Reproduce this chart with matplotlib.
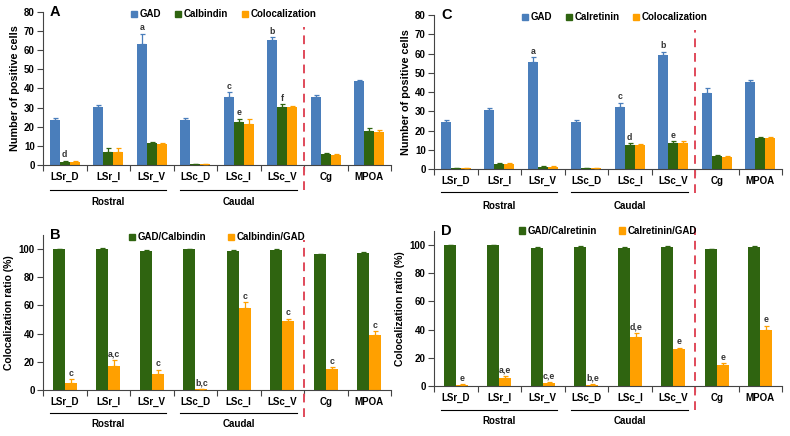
import matplotlib
matplotlib.use("Agg")
import matplotlib.pyplot as plt
from matplotlib.patches import Patch
import numpy as np

plt.rcParams['font.family'] = ['Liberation Sans', 'DejaVu Sans']
plt.rcParams['font.weight'] = 'bold'

categories = ['LSr_D', 'LSr_I', 'LSr_V', 'LSc_D', 'LSc_I', 'LSc_V', 'Cg', 'MPOA']

# Panel A (Calbindin counts)
gad_a = [23.3, 30.1, 63.5, 23.7, 35.6, 65.6, 35.3, 43.7]
gad_a_err = [1.2, 1.2, 5.0, 0.8, 2.4, 1.3, 1.2, 1.0]
calb_a = [1.5, 7.0, 11.3, 0.3, 22.3, 30.4, 5.6, 17.9]
calb_a_err = [0.8, 2.0, 0.8, 0.2, 2.0, 1.3, 0.7, 1.6]
coloc_a = [1.5, 7.0, 11.0, 0.3, 21.6, 30.1, 5.0, 17.2]
coloc_a_err = [0.6, 2.0, 0.7, 0.2, 2.3, 1.0, 0.7, 1.2]
notes_a = [(0, 2, 'a'), (1, 0, 'd'), (0, 4, 'c'), (1, 4, 'e'), (0, 5, 'b'), (1, 5, 'f')]

# Panel C (Calretinin counts)
gad_c = [24.2, 30.8, 55.8, 24.2, 32.4, 59.4, 39.5, 45.0]
gad_c_err = [1.2, 1.0, 2.2, 1.2, 2.0, 1.5, 2.5, 1.0]
calr_c = [0.4, 2.4, 1.2, 0.5, 12.3, 13.5, 6.9, 16.3]
calr_c_err = [0.2, 0.8, 0.4, 0.2, 1.0, 1.0, 0.5, 0.5]
coloc_c = [0.3, 2.4, 1.2, 0.3, 12.3, 13.5, 6.4, 15.9]
coloc_c_err = [0.2, 0.8, 0.5, 0.2, 0.6, 0.8, 0.5, 0.5]
notes_c = [(0, 2, 'a'), (0, 4, 'c'), (1, 4, 'd'), (0, 5, 'b'), (1, 5, 'e')]

# Panel B (Calbindin ratios)
gad_calb = [100, 100, 99, 100, 98.6, 99.3, 96.2, 97.4]
gad_calb_err = [0.3, 0.5, 0.3, 0.3, 0.8, 0.5, 0.6, 0.8]
calb_gad = [5.2, 17.0, 11.1, 0.5, 58.2, 49.2, 14.9, 39.2]
calb_gad_err = [2.3, 4.0, 3.0, 0.2, 4.0, 1.5, 1.2, 2.5]
notes_b = ['c', 'a,c', 'c', 'b,c', 'c', 'c', 'c', 'c']

# Panel D (Calretinin ratios)
gad_calr = [100, 100, 98, 99, 97.6, 98.8, 96.9, 98.8]
gad_calr_err = [0.3, 0.3, 0.3, 0.5, 1.0, 0.5, 0.5, 0.4]
calr_gad = [0.8, 6.0, 2.0, 0.8, 35.0, 26.0, 15.1, 40.0]
calr_gad_err = [0.3, 0.8, 0.5, 0.3, 2.5, 1.3, 1.0, 2.5]
notes_d = ['e', 'a,e', 'c,e', 'b,e', 'd,e', 'e', 'e', 'e']

BLUE = '#4A7EBB'
GREEN = '#2F6410'
ORANGE = '#FFA000'
RED = '#E04A5A'
FS = 7

fig = plt.figure(figsize=(7.9, 4.36), dpi=100)

W, H = 790, 436
def add_ax(l, t, r, b):
    return fig.add_axes([l / W, 1 - b / H, (r - l) / W, (b - t) / H])

axA = add_ax(43, 12, 391, 165)
axC = add_ax(434, 15, 782, 169)
axB = add_ax(43, 235, 391, 390)
axD = add_ax(434, 231, 782, 386)

x = np.arange(len(categories)) + 0.5


def style(ax, ymax, ystep, ylabel, ylfs, letter, line_y, text_y, dash_top, dash_bot):
    ax.set_xlim(0, len(categories))
    ax.set_ylim(0, ymax)
    ax.set_yticks(np.arange(0, ymax + 0.1, ystep))
    ax.set_xticks(np.arange(0, len(categories) + 1))
    ax.set_xticklabels([])
    ax.set_xticks(x, minor=True)
    ax.set_xticklabels(categories, minor=True)
    ax.tick_params(axis='x', which='major', direction='out', length=4, width=0.8, color='#444444')
    ax.tick_params(axis='x', which='minor', length=0, pad=5, labelsize=FS)
    ax.tick_params(axis='y', direction='out', length=4, width=0.8, labelsize=FS, color='#444444', pad=2)
    for s in ['top', 'right']:
        ax.spines[s].set_visible(False)
    for s in ['left', 'bottom']:
        ax.spines[s].set_color('#444444')
        ax.spines[s].set_linewidth(0.8)
    ax.set_ylabel(ylabel, fontsize=ylfs, fontweight='bold', labelpad=3)
    ax.text(0.02, 1.0, letter, transform=ax.transAxes, fontsize=10.5, fontweight='bold',
            ha='left', va='center')
    tr = ax.get_xaxis_transform()
    ax.plot([0.16, 2.83], [line_y, line_y], color='black', lw=0.8, transform=tr, clip_on=False)
    ax.plot([3.16, 5.84], [line_y, line_y], color='black', lw=0.8, transform=tr, clip_on=False)
    ax.text(1.5, text_y, 'Rostral', transform=tr, ha='center', va='center', fontsize=FS, fontweight='bold')
    ax.text(4.5, text_y, 'Caudal', transform=tr, ha='center', va='center', fontsize=FS, fontweight='bold')
    ax.plot([6, 6], [dash_bot, dash_top], color=RED, lw=1.4, ls=(0, (4.5, 3)), transform=tr, clip_on=False)


def bars(ax, series, errs, colors, width, offsets):
    for s, e, c, o in zip(series, errs, colors, offsets):
        ax.bar(x + o, s, width=width, color=c, zorder=2)
        ax.errorbar(x + o, s, yerr=[np.zeros(len(e)), e], fmt='none', ecolor=c,
                    elinewidth=0.9, capsize=1.8, capthick=0.9, zorder=3)


# Panel A
wA = 0.23
offA = [-wA, 0, wA]
bars(axA, [gad_a, calb_a, coloc_a], [gad_a_err, calb_a_err, coloc_a_err],
     [BLUE, GREEN, ORANGE], wA, offA)
serA = [gad_a, calb_a, coloc_a]
errA = [gad_a_err, calb_a_err, coloc_a_err]
for si, i, t in notes_a:
    axA.text(x[i] + offA[si], serA[si][i] + errA[si][i] + 0.8, t, ha='center', va='bottom',
             fontsize=6.3, fontweight='bold', color='#333333')
style(axA, 80, 10, 'Number of positive cells', 7.8, 'A', -0.163, -0.245, 0.90, -0.165)
axA.legend(handles=[Patch(color=BLUE, label='GAD'), Patch(color=GREEN, label='Calbindin'),
                    Patch(color=ORANGE, label='Colocalization')],
           loc='center', bbox_to_anchor=(0.52, 0.985), ncol=3, frameon=False, fontsize=FS,
           handlelength=0.6, handleheight=0.6, handletextpad=0.3, columnspacing=1.4, borderpad=0)

# Panel C
bars(axC, [gad_c, calr_c, coloc_c], [gad_c_err, calr_c_err, coloc_c_err],
     [BLUE, GREEN, ORANGE], wA, offA)
serC = [gad_c, calr_c, coloc_c]
errC = [gad_c_err, calr_c_err, coloc_c_err]
for si, i, t in notes_c:
    axC.text(x[i] + offA[si], serC[si][i] + errC[si][i] + 0.8, t, ha='center', va='bottom',
             fontsize=6.3, fontweight='bold', color='#333333')
style(axC, 80, 10, 'Number of positive cells', 7.8, 'C', -0.15, -0.24, 0.90, -0.157)
axC.legend(handles=[Patch(color=BLUE, label='GAD'), Patch(color=GREEN, label='Calretinin'),
                    Patch(color=ORANGE, label='Colocalization')],
           loc='center', bbox_to_anchor=(0.52, 0.985), ncol=3, frameon=False, fontsize=FS,
           handlelength=0.6, handleheight=0.6, handletextpad=0.3, columnspacing=1.4, borderpad=0)

# Panel B
wB = 0.28
offB = [-wB / 2, wB / 2]
bars(axB, [gad_calb, calb_gad], [gad_calb_err, calb_gad_err], [GREEN, ORANGE], wB, offB)
for i, t in enumerate(notes_b):
    axB.text(x[i] + offB[1], calb_gad[i] + calb_gad_err[i] + 1.2, t, ha='center', va='bottom',
             fontsize=6.3, fontweight='bold', color='#333333')
style(axB, 110, 20, 'Colocalization ratio (%)', 7.5, 'B', -0.148, -0.22, 0.97, -0.175)
axB.legend(handles=[Patch(color=GREEN, label='GAD/Calbindin'), Patch(color=ORANGE, label='Calbindin/GAD')],
           loc='center', bbox_to_anchor=(0.50, 0.985), ncol=2, frameon=False, fontsize=FS,
           handlelength=0.6, handleheight=0.6, handletextpad=0.3, columnspacing=2.2, borderpad=0)

# Panel D
bars(axD, [gad_calr, calr_gad], [gad_calr_err, calr_gad_err], [GREEN, ORANGE], wB, offB)
for i, t in enumerate(notes_d):
    axD.text(x[i] + offB[1], calr_gad[i] + calr_gad_err[i] + 1.2, t, ha='center', va='bottom',
             fontsize=6.3, fontweight='bold', color='#333333')
style(axD, 110, 20, 'Colocalization ratio (%)', 7.5, 'D', -0.155, -0.225, 1.02, -0.157)
axD.legend(handles=[Patch(color=GREEN, label='GAD/Calretinin'), Patch(color=ORANGE, label='Calretinin/GAD')],
           loc='center', bbox_to_anchor=(0.50, 1.0), ncol=2, frameon=False, fontsize=FS,
           handlelength=0.6, handleheight=0.6, handletextpad=0.3, columnspacing=2.2, borderpad=0)

fig.savefig('out.png', dpi=100)
